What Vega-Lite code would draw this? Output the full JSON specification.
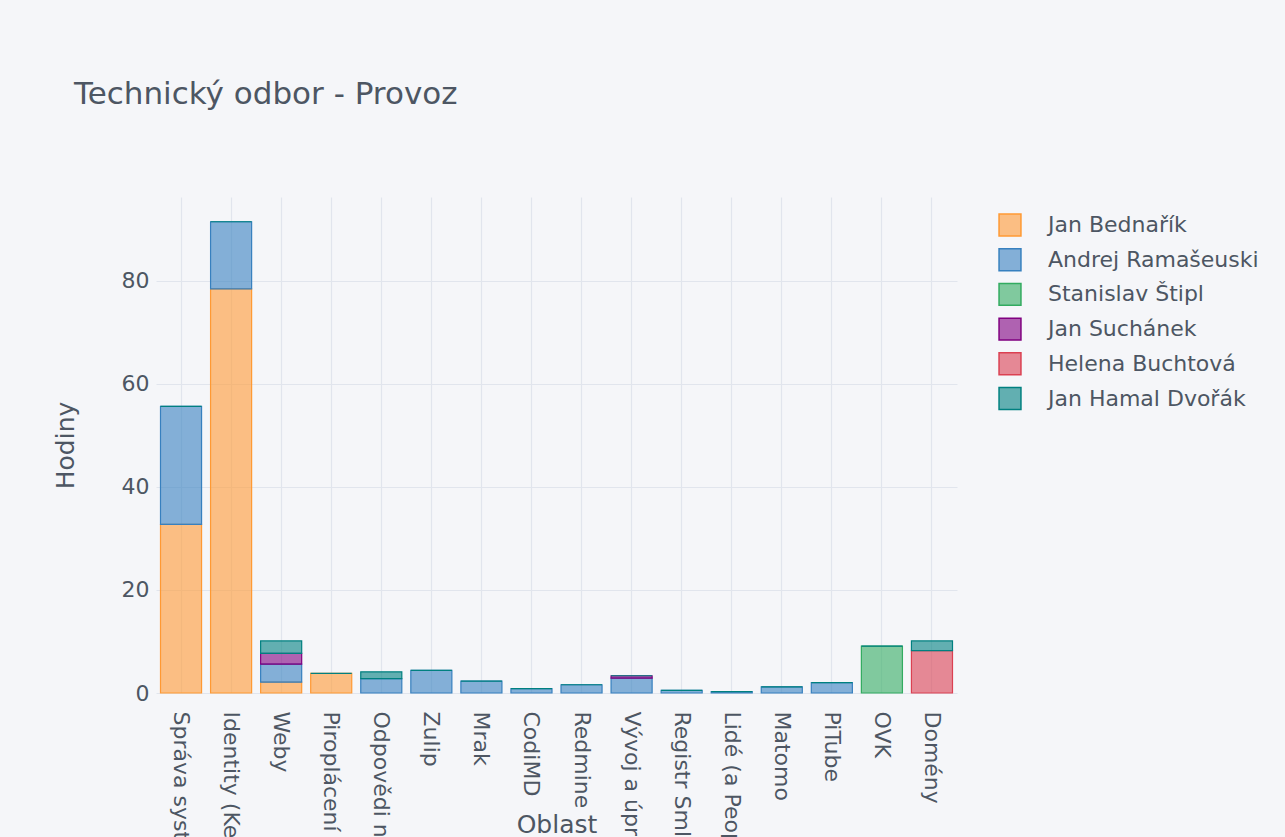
{
  "$schema": "https://vega.github.io/schema/vega-lite/v6.json",
  "autosize": {"type": "none"},
  "padding": {"left": 156, "top": 197, "right": 328, "bottom": 144},
  "width": 801,
  "height": 496,
  "background": "#F5F6F9",
  "title": {
    "text": "Technický odbor - Provoz",
    "anchor": "start",
    "frame": "group",
    "dx": -82,
    "offset": 62,
    "baseline": "alphabetic",
    "font": "DejaVu Sans",
    "fontSize": 31,
    "fontWeight": "normal",
    "color": "#4D5663"
  },
  "config": {
    "view": {"stroke": null, "fill": "#F5F6F9"},
    "font": "DejaVu Sans",
    "axis": {
      "labelFont": "DejaVu Sans",
      "titleFont": "DejaVu Sans",
      "labelColor": "#4D5663",
      "titleColor": "#4D5663",
      "labelFontSize": 22,
      "titleFontSize": 25,
      "titleFontWeight": "normal",
      "gridColor": "#E1E5ED",
      "gridWidth": 1.2,
      "domain": false,
      "ticks": false
    },
    "legend": {
      "labelFont": "DejaVu Sans",
      "labelColor": "#4D5663",
      "labelFontSize": 22
    }
  },
  "data": {
    "values": [
      {"oblast": "Správa systémů", "osoba": "Jan Bednařík", "poradi": 1, "hodiny": 32.7},
      {"oblast": "Správa systémů", "osoba": "Andrej Ramašeuski", "poradi": 2, "hodiny": 22.9},
      {"oblast": "Správa systémů", "osoba": "Jan Hamal Dvořák", "poradi": 6, "hodiny": 0},
      {"oblast": "Identity (Keycloak)", "osoba": "Jan Bednařík", "poradi": 1, "hodiny": 78.4},
      {"oblast": "Identity (Keycloak)", "osoba": "Andrej Ramašeuski", "poradi": 2, "hodiny": 13.0},
      {"oblast": "Identity (Keycloak)", "osoba": "Jan Hamal Dvořák", "poradi": 6, "hodiny": 0},
      {"oblast": "Weby", "osoba": "Jan Bednařík", "poradi": 1, "hodiny": 2.1},
      {"oblast": "Weby", "osoba": "Andrej Ramašeuski", "poradi": 2, "hodiny": 3.5},
      {"oblast": "Weby", "osoba": "Jan Suchánek", "poradi": 4, "hodiny": 2.1},
      {"oblast": "Weby", "osoba": "Jan Hamal Dvořák", "poradi": 6, "hodiny": 2.4},
      {"oblast": "Piroplácení", "osoba": "Jan Bednařík", "poradi": 1, "hodiny": 3.8},
      {"oblast": "Piroplácení", "osoba": "Jan Hamal Dvořák", "poradi": 6, "hodiny": 0},
      {"oblast": "Odpovědi na dotazy", "osoba": "Andrej Ramašeuski", "poradi": 2, "hodiny": 2.8},
      {"oblast": "Odpovědi na dotazy", "osoba": "Jan Hamal Dvořák", "poradi": 6, "hodiny": 1.3},
      {"oblast": "Zulip", "osoba": "Andrej Ramašeuski", "poradi": 2, "hodiny": 4.4},
      {"oblast": "Zulip", "osoba": "Jan Hamal Dvořák", "poradi": 6, "hodiny": 0},
      {"oblast": "Mrak", "osoba": "Andrej Ramašeuski", "poradi": 2, "hodiny": 2.3},
      {"oblast": "Mrak", "osoba": "Jan Hamal Dvořák", "poradi": 6, "hodiny": 0},
      {"oblast": "CodiMD", "osoba": "Andrej Ramašeuski", "poradi": 2, "hodiny": 0.85},
      {"oblast": "CodiMD", "osoba": "Jan Hamal Dvořák", "poradi": 6, "hodiny": 0},
      {"oblast": "Redmine", "osoba": "Andrej Ramašeuski", "poradi": 2, "hodiny": 1.6},
      {"oblast": "Redmine", "osoba": "Jan Hamal Dvořák", "poradi": 6, "hodiny": 0},
      {"oblast": "Vývoj a úpravy", "osoba": "Andrej Ramašeuski", "poradi": 2, "hodiny": 2.9},
      {"oblast": "Vývoj a úpravy", "osoba": "Jan Suchánek", "poradi": 4, "hodiny": 0.45},
      {"oblast": "Vývoj a úpravy", "osoba": "Jan Hamal Dvořák", "poradi": 6, "hodiny": 0},
      {"oblast": "Registr Smluv", "osoba": "Andrej Ramašeuski", "poradi": 2, "hodiny": 0.5},
      {"oblast": "Registr Smluv", "osoba": "Jan Hamal Dvořák", "poradi": 6, "hodiny": 0},
      {"oblast": "Lidé (a People)", "osoba": "Andrej Ramašeuski", "poradi": 2, "hodiny": 0.25},
      {"oblast": "Lidé (a People)", "osoba": "Jan Hamal Dvořák", "poradi": 6, "hodiny": 0},
      {"oblast": "Matomo", "osoba": "Andrej Ramašeuski", "poradi": 2, "hodiny": 1.2},
      {"oblast": "Matomo", "osoba": "Jan Hamal Dvořák", "poradi": 6, "hodiny": 0},
      {"oblast": "PiTube", "osoba": "Andrej Ramašeuski", "poradi": 2, "hodiny": 2.0},
      {"oblast": "PiTube", "osoba": "Jan Hamal Dvořák", "poradi": 6, "hodiny": 0},
      {"oblast": "OVK", "osoba": "Stanislav Štipl", "poradi": 3, "hodiny": 9.1},
      {"oblast": "OVK", "osoba": "Jan Hamal Dvořák", "poradi": 6, "hodiny": 0},
      {"oblast": "Domény", "osoba": "Helena Buchtová", "poradi": 5, "hodiny": 8.2},
      {"oblast": "Domény", "osoba": "Jan Hamal Dvořák", "poradi": 6, "hodiny": 1.9}
    ]
  },
  "mark": {"type": "bar", "fillOpacity": 0.6, "strokeWidth": 1.2, "strokeOpacity": 1},
  "encoding": {
    "x": {
      "field": "oblast",
      "type": "nominal",
      "sort": null,
      "scale": {"paddingInner": 0.18, "paddingOuter": 0.09},
      "axis": {
        "title": "Oblast",
        "labelAngle": 90,
        "labelAlign": "left",
        "labelBaseline": "middle",
        "labelPadding": 18,
        "labelLimit": 2000,
        "labelOverlap": false,
        "grid": true,
        "bandPosition": 0.5,
        "titleY": 139,
        "titleBaseline": "alphabetic"
      }
    },
    "y": {
      "field": "hodiny",
      "type": "quantitative",
      "aggregate": "sum",
      "stack": "zero",
      "scale": {"domain": [0, 96.2], "nice": false},
      "axis": {
        "title": "Hodiny",
        "values": [0, 20, 40, 60, 80],
        "labelPadding": 7,
        "titleX": -91,
        "titleBaseline": "middle"
      }
    },
    "color": {
      "field": "osoba",
      "type": "nominal",
      "scale": {
        "domain": ["Jan Bednařík", "Andrej Ramašeuski", "Stanislav Štipl", "Jan Suchánek", "Helena Buchtová", "Jan Hamal Dvořák"],
        "range": ["#FF9933", "#3780BF", "#32AB60", "#800080", "#DB4052", "#008080"]
      },
      "legend": {
        "title": null,
        "orient": "none",
        "legendX": 842,
        "legendY": 16,
        "symbolType": "square",
        "symbolSize": 480,
        "symbolStrokeWidth": 1.5,
        "labelOffset": 26,
        "labelLimit": 500,
        "rowPadding": 6.7,
        "padding": 0,
        "encode": {
          "symbols": {
            "update": {
              "fillOpacity": {"value": 0.6},
              "strokeOpacity": {"value": 1},
              "stroke": {"scale": "color", "field": "value"},
              "strokeWidth": {"value": 1.5}
            }
          }
        }
      }
    },
    "stroke": {
      "field": "osoba",
      "type": "nominal",
      "scale": {
        "domain": ["Jan Bednařík", "Andrej Ramašeuski", "Stanislav Štipl", "Jan Suchánek", "Helena Buchtová", "Jan Hamal Dvořák"],
        "range": ["#FF9933", "#3780BF", "#32AB60", "#800080", "#DB4052", "#008080"]
      },
      "legend": null
    },
    "order": {"field": "poradi", "type": "quantitative"}
  }
}
